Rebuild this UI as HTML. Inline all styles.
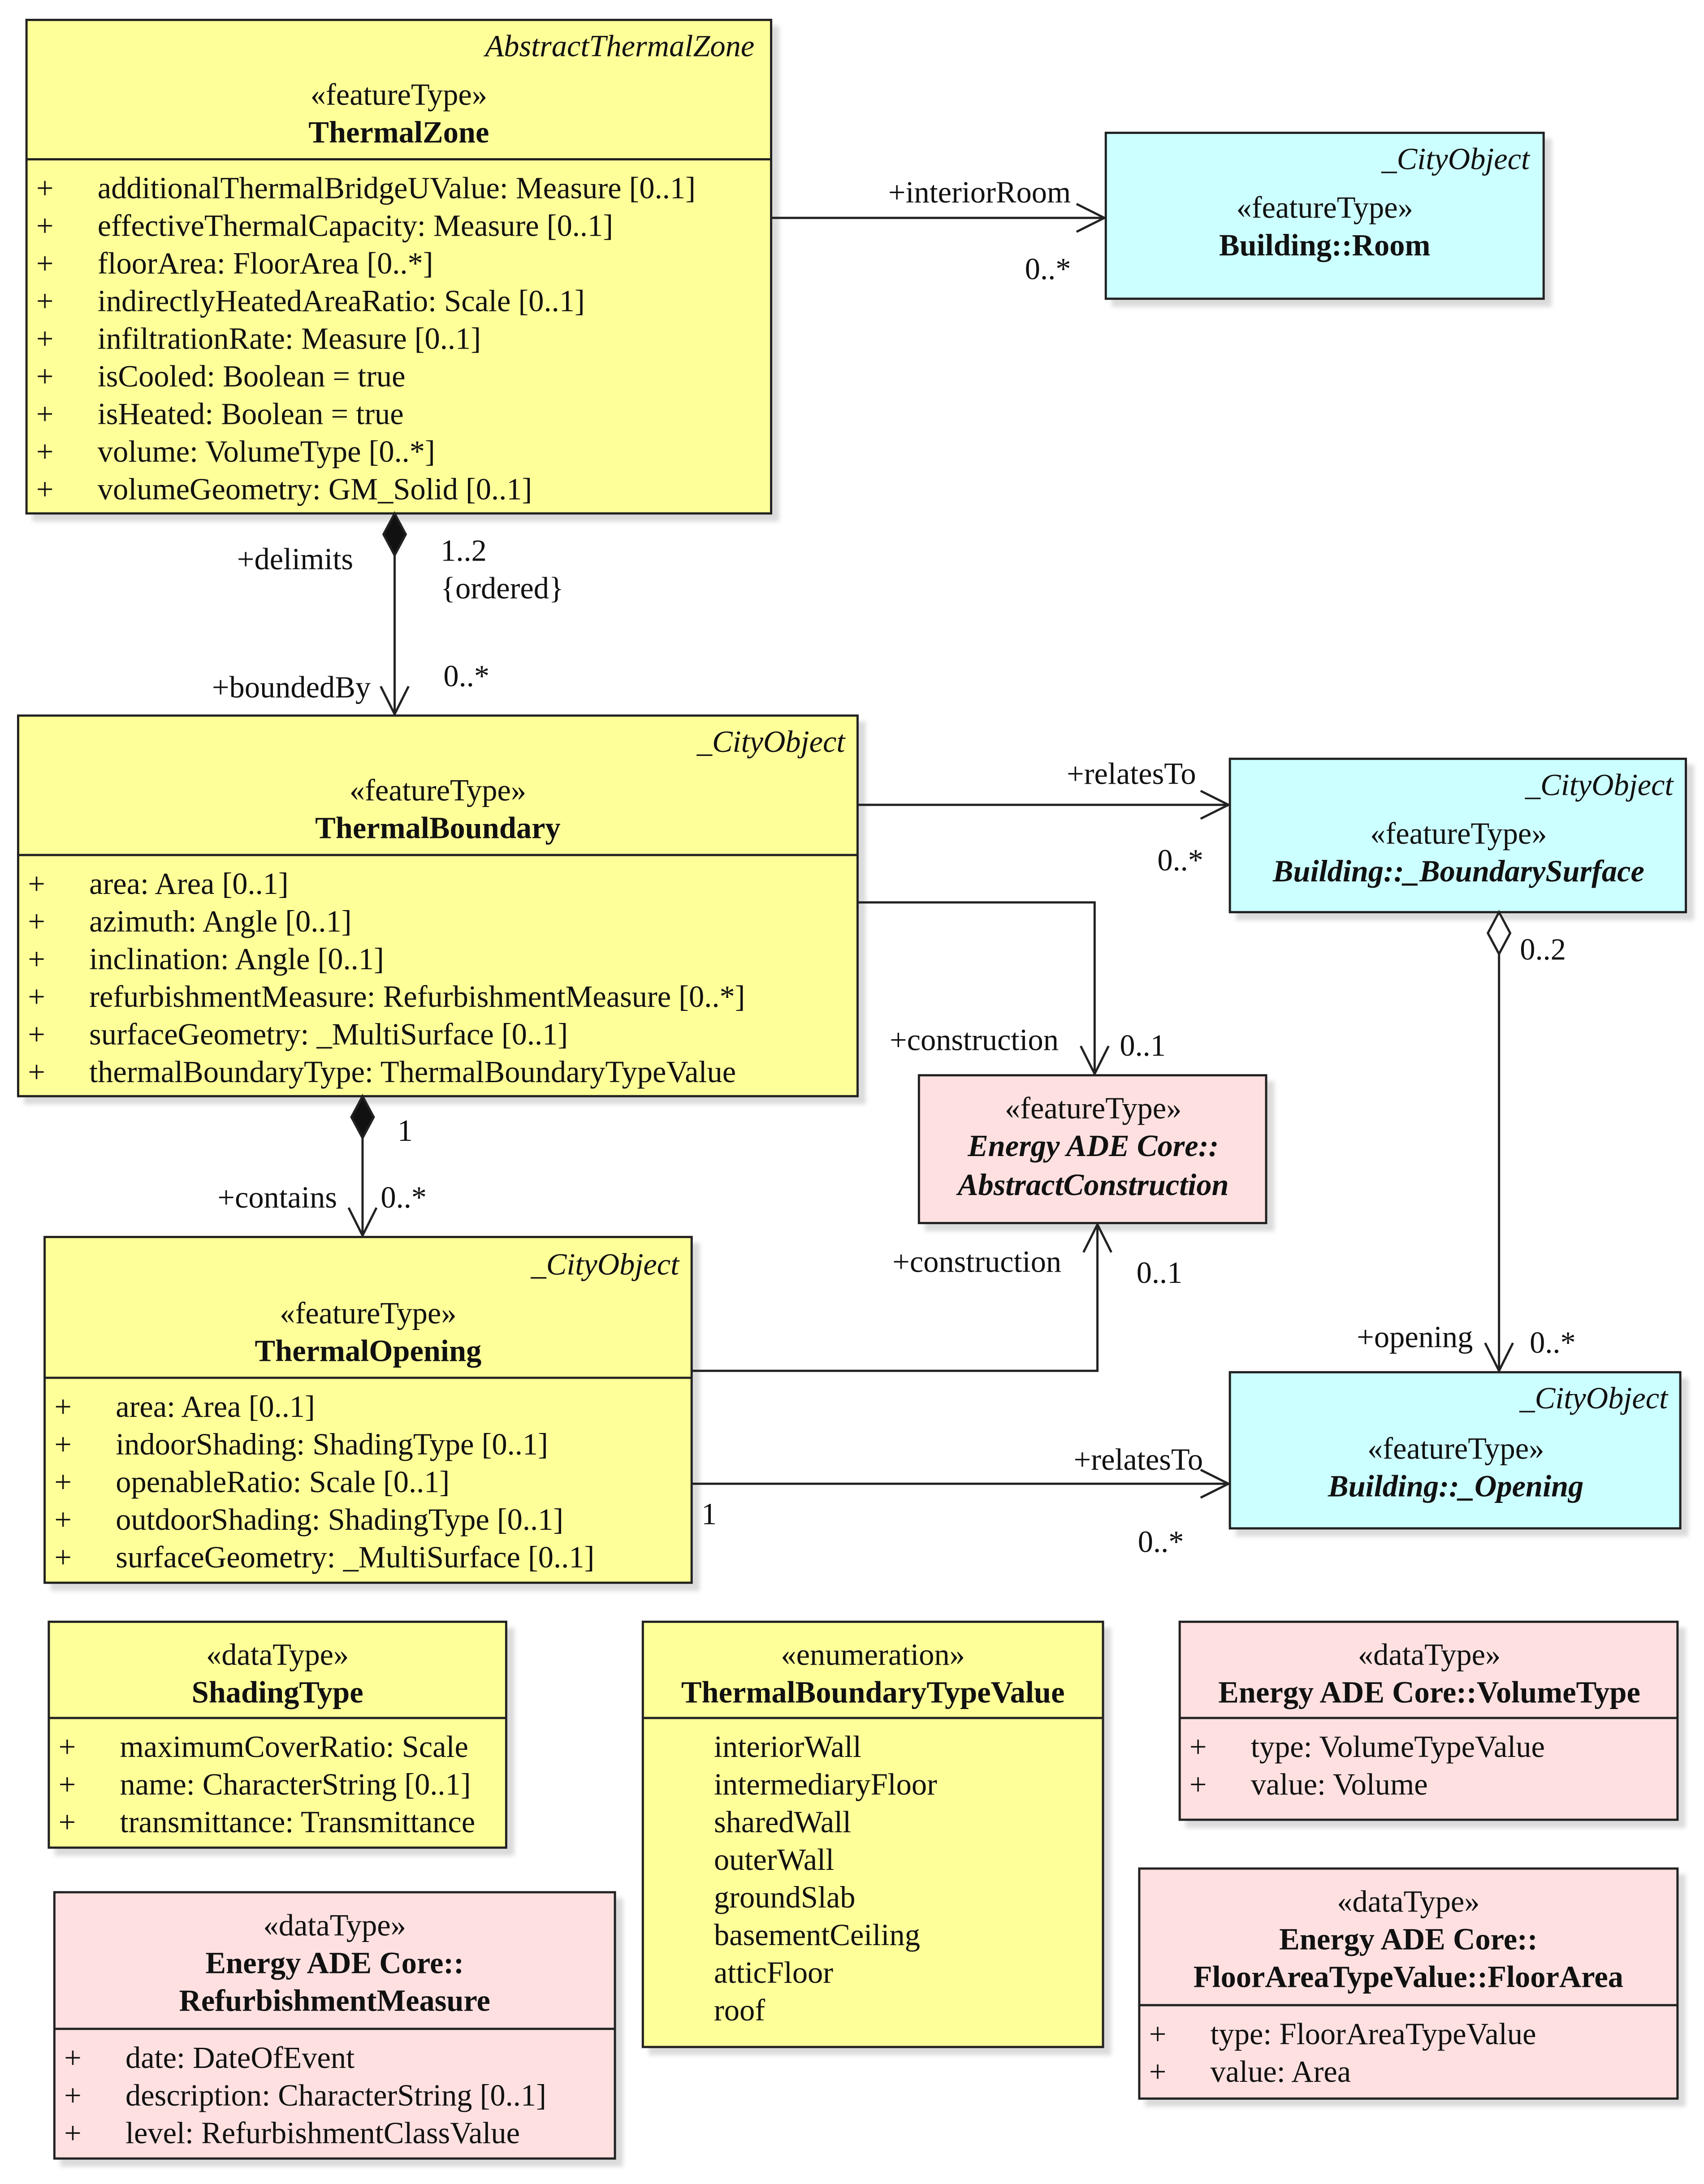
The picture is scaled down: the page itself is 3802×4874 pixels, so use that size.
<!DOCTYPE html>
<html><head><meta charset="utf-8"><style>
html,body{margin:0;padding:0;background:#fff}
svg{display:block}
text{font-family:"Liberation Serif",serif;font-size:22px;fill:#111}
.b{font-weight:bold}
.i{font-style:italic}
.bi{font-weight:bold;font-style:italic}
.m{text-anchor:middle}
.e{text-anchor:end}
.a{fill:#333}
</style></head><body>
<svg width="3802" height="4874" viewBox="0 0 1222 1566" xmlns="http://www.w3.org/2000/svg">
<defs>
<filter id="s" x="-5%" y="-5%" width="115%" height="115%"><feOffset dx="5" dy="5"/><feGaussianBlur stdDeviation="1.5"/><feColorMatrix values="0 0 0 0 0.6 0 0 0 0 0.6 0 0 0 0 0.6 0 0 0 0.7 0"/></filter>
</defs>
<g stroke="#222" stroke-width="1.6">
<g>
<rect x="19" y="14" width="534" height="354" fill="#ffff99" filter="url(#s)"/>
<rect x="19" y="14" width="534" height="354" fill="#ffff99"/><line x1="19" y1="114" x2="553" y2="114"/>
<rect x="793" y="95" width="314" height="119" fill="#ccffff" filter="url(#s)"/>
<rect x="793" y="95" width="314" height="119" fill="#ccffff"/>
<rect x="13" y="513" width="602" height="273" fill="#ffff99" filter="url(#s)"/>
<rect x="13" y="513" width="602" height="273" fill="#ffff99"/><line x1="13" y1="613" x2="615" y2="613"/>
<rect x="882" y="544" width="327" height="110" fill="#ccffff" filter="url(#s)"/>
<rect x="882" y="544" width="327" height="110" fill="#ccffff"/>
<rect x="659" y="771" width="249" height="106" fill="#ffe0e0" filter="url(#s)"/>
<rect x="659" y="771" width="249" height="106" fill="#ffe0e0"/>
<rect x="32" y="887" width="464" height="248" fill="#ffff99" filter="url(#s)"/>
<rect x="32" y="887" width="464" height="248" fill="#ffff99"/><line x1="32" y1="988" x2="496" y2="988"/>
<rect x="882" y="984" width="323" height="112" fill="#ccffff" filter="url(#s)"/>
<rect x="882" y="984" width="323" height="112" fill="#ccffff"/>
<rect x="35" y="1163" width="328" height="162" fill="#ffff99" filter="url(#s)"/>
<rect x="35" y="1163" width="328" height="162" fill="#ffff99"/><line x1="35" y1="1232" x2="363" y2="1232"/>
<rect x="461" y="1163" width="330" height="305" fill="#ffff99" filter="url(#s)"/>
<rect x="461" y="1163" width="330" height="305" fill="#ffff99"/><line x1="461" y1="1232" x2="791" y2="1232"/>
<rect x="846" y="1163" width="357" height="142" fill="#ffe0e0" filter="url(#s)"/>
<rect x="846" y="1163" width="357" height="142" fill="#ffe0e0"/><line x1="846" y1="1232" x2="1203" y2="1232"/>
<rect x="39" y="1357" width="402" height="191" fill="#ffe0e0" filter="url(#s)"/>
<rect x="39" y="1357" width="402" height="191" fill="#ffe0e0"/><line x1="39" y1="1455" x2="441" y2="1455"/>
<rect x="817" y="1340" width="386" height="165" fill="#ffe0e0" filter="url(#s)"/>
<rect x="817" y="1340" width="386" height="165" fill="#ffe0e0"/><line x1="817" y1="1438" x2="1203" y2="1438"/>
</g>
<g fill="none">
<line x1="553" y1="156" x2="792" y2="156"/><polyline points="772,146 792,156 772,166"/>
<line x1="283" y1="398" x2="283" y2="512"/><polyline points="273,492 283,512 293,492"/>
<line x1="615" y1="577" x2="881" y2="577"/><polyline points="861,567 881,577 861,587"/>
<polyline points="615,647 785,647 785,770"/><polyline points="775,750 785,770 795,750"/>
<line x1="260" y1="816" x2="260" y2="886"/><polyline points="250,866 260,886 270,866"/>
<polyline points="496,983 787,983 787,878"/><polyline points="777,898 787,878 797,898"/>
<line x1="496" y1="1064" x2="881" y2="1064"/><polyline points="861,1054 881,1064 861,1074"/>
<line x1="1075" y1="684" x2="1075" y2="983"/><polyline points="1065,963 1075,983 1085,963"/>
</g>
<polygon points="283,368 291,383 283,398 275,383" fill="#111"/>
<polygon points="260,786 268,801 260,816 252,801" fill="#111"/>
<polygon points="1075,654 1083,669 1075,684 1067,669" fill="#fff"/>
</g>
<text x="541" y="40" class="i e">AbstractThermalZone</text>
<text x="286" y="75" class="m">«featureType»</text>
<text x="286" y="102" class="b m">ThermalZone</text>
<g class="a">
<text x="26" y="142">+</text><text x="70" y="142">additionalThermalBridgeUValue: Measure [0..1]</text>
<text x="26" y="169">+</text><text x="70" y="169">effectiveThermalCapacity: Measure [0..1]</text>
<text x="26" y="196">+</text><text x="70" y="196">floorArea: FloorArea [0..*]</text>
<text x="26" y="223">+</text><text x="70" y="223">indirectlyHeatedAreaRatio: Scale [0..1]</text>
<text x="26" y="250">+</text><text x="70" y="250">infiltrationRate: Measure [0..1]</text>
<text x="26" y="277">+</text><text x="70" y="277">isCooled: Boolean = true</text>
<text x="26" y="304">+</text><text x="70" y="304">isHeated: Boolean = true</text>
<text x="26" y="331">+</text><text x="70" y="331">volume: VolumeType [0..*]</text>
<text x="26" y="358">+</text><text x="70" y="358">volumeGeometry: GM_Solid [0..1]</text>
</g>
<text x="1097" y="121" class="i e">_CityObject</text>
<text x="950" y="156" class="m">«featureType»</text>
<text x="950" y="183" class="b m">Building::Room</text>
<text x="606" y="539" class="i e">_CityObject</text>
<text x="314" y="574" class="m">«featureType»</text>
<text x="314" y="601" class="b m">ThermalBoundary</text>
<g class="a">
<text x="20" y="641">+</text><text x="64" y="641">area: Area [0..1]</text>
<text x="20" y="668">+</text><text x="64" y="668">azimuth: Angle [0..1]</text>
<text x="20" y="695">+</text><text x="64" y="695">inclination: Angle [0..1]</text>
<text x="20" y="722">+</text><text x="64" y="722">refurbishmentMeasure: RefurbishmentMeasure [0..*]</text>
<text x="20" y="749">+</text><text x="64" y="749">surfaceGeometry: _MultiSurface [0..1]</text>
<text x="20" y="776">+</text><text x="64" y="776">thermalBoundaryType: ThermalBoundaryTypeValue</text>
</g>
<text x="1200" y="570" class="i e">_CityObject</text>
<text x="1046" y="605" class="m">«featureType»</text>
<text x="1046" y="632" class="bi m">Building::_BoundarySurface</text>
<text x="784" y="802" class="m">«featureType»</text>
<text x="784" y="829" class="bi m">Energy ADE Core::</text>
<text x="784" y="857" class="bi m">AbstractConstruction</text>
<text x="487" y="914" class="i e">_CityObject</text>
<text x="264" y="949" class="m">«featureType»</text>
<text x="264" y="976" class="b m">ThermalOpening</text>
<g class="a">
<text x="39" y="1016">+</text><text x="83" y="1016">area: Area [0..1]</text>
<text x="39" y="1043">+</text><text x="83" y="1043">indoorShading: ShadingType [0..1]</text>
<text x="39" y="1070">+</text><text x="83" y="1070">openableRatio: Scale [0..1]</text>
<text x="39" y="1097">+</text><text x="83" y="1097">outdoorShading: ShadingType [0..1]</text>
<text x="39" y="1124">+</text><text x="83" y="1124">surfaceGeometry: _MultiSurface [0..1]</text>
</g>
<text x="1196" y="1010" class="i e">_CityObject</text>
<text x="1044" y="1046" class="m">«featureType»</text>
<text x="1044" y="1073" class="bi m">Building::_Opening</text>
<text x="199" y="1194" class="m">«dataType»</text>
<text x="199" y="1221" class="b m">ShadingType</text>
<g class="a">
<text x="42" y="1260">+</text><text x="86" y="1260">maximumCoverRatio: Scale</text>
<text x="42" y="1287">+</text><text x="86" y="1287">name: CharacterString [0..1]</text>
<text x="42" y="1314">+</text><text x="86" y="1314">transmittance: Transmittance</text>
</g>
<text x="626" y="1194" class="m">«enumeration»</text>
<text x="626" y="1221" class="b m">ThermalBoundaryTypeValue</text>
<g class="a">
<text x="512" y="1260">interiorWall</text>
<text x="512" y="1287">intermediaryFloor</text>
<text x="512" y="1314">sharedWall</text>
<text x="512" y="1341">outerWall</text>
<text x="512" y="1368">groundSlab</text>
<text x="512" y="1395">basementCeiling</text>
<text x="512" y="1422">atticFloor</text>
<text x="512" y="1449">roof</text>
</g>
<text x="1025" y="1194" class="m">«dataType»</text>
<text x="1025" y="1221" class="b m">Energy ADE Core::VolumeType</text>
<g class="a">
<text x="853" y="1260">+</text><text x="897" y="1260">type: VolumeTypeValue</text>
<text x="853" y="1287">+</text><text x="897" y="1287">value: Volume</text>
</g>
<text x="240" y="1388" class="m">«dataType»</text>
<text x="240" y="1415" class="b m">Energy ADE Core::</text>
<text x="240" y="1442" class="b m">RefurbishmentMeasure</text>
<g class="a">
<text x="46" y="1483">+</text><text x="90" y="1483">date: DateOfEvent</text>
<text x="46" y="1510">+</text><text x="90" y="1510">description: CharacterString [0..1]</text>
<text x="46" y="1537">+</text><text x="90" y="1537">level: RefurbishmentClassValue</text>
</g>
<text x="1010" y="1371" class="m">«dataType»</text>
<text x="1010" y="1398" class="b m">Energy ADE Core::</text>
<text x="1010" y="1425" class="b m">FloorAreaTypeValue::FloorArea</text>
<g class="a">
<text x="824" y="1466">+</text><text x="868" y="1466">type: FloorAreaTypeValue</text>
<text x="824" y="1493">+</text><text x="868" y="1493">value: Area</text>
</g>
<text x="637" y="145">+interiorRoom</text>
<text x="735" y="200">0..*</text>
<text x="170" y="408">+delimits</text>
<text x="316" y="402">1..2</text>
<text x="316" y="429">{ordered}</text>
<text x="152" y="500">+boundedBy</text>
<text x="318" y="492">0..*</text>
<text x="765" y="562">+relatesTo</text>
<text x="830" y="624">0..*</text>
<text x="638" y="753">+construction</text>
<text x="803" y="757">0..1</text>
<text x="285" y="818">1</text>
<text x="156" y="866">+contains</text>
<text x="273" y="866">0..*</text>
<text x="640" y="912">+construction</text>
<text x="815" y="920">0..1</text>
<text x="770" y="1054">+relatesTo</text>
<text x="503" y="1093">1</text>
<text x="816" y="1113">0..*</text>
<text x="1090" y="688">0..2</text>
<text x="973" y="966">+opening</text>
<text x="1097" y="970">0..*</text>
</svg>
</body></html>
